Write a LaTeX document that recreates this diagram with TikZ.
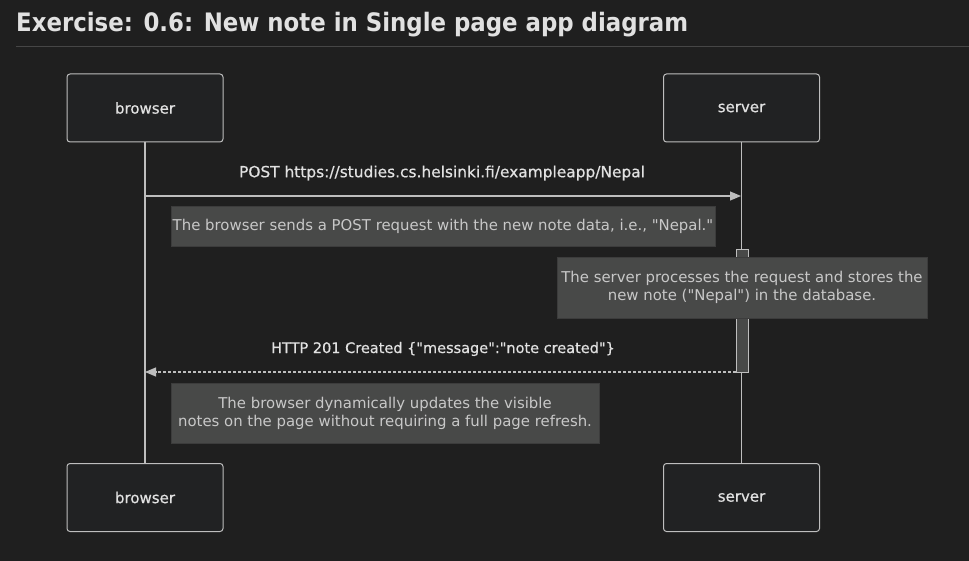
\documentclass[tikz,border=0pt]{standalone}
\usepackage{fontspec}
\setmainfont{DejaVu Sans}
\newfontfamily\notefont{DejaVu Sans}
\newfontfamily\medfont{DejaVu Sans}[FakeBold=0.6]
\newfontfamily\titlefont{DejaVu Sans Condensed}
\newcommand\qq{\symbol{34}}
\usetikzlibrary{arrows.meta}
\definecolor{bg}{RGB}{31,31,31}
\definecolor{boxfill}{RGB}{33,34,35}
\definecolor{boxline}{RGB}{190,190,190}
\definecolor{notefill}{RGB}{72,73,72}
\definecolor{noteline}{RGB}{60,60,60}
\definecolor{txt}{RGB}{225,225,225}
\definecolor{notetxt}{RGB}{200,200,200}
\definecolor{rule}{RGB}{70,70,70}
\begin{document}
\begin{tikzpicture}[x=1pt,y=-1pt,
  actor/.style={draw=boxline,line width=1pt,fill=boxfill,rounded corners=3pt,minimum width=156pt,minimum height=68pt,text=txt,font=\medfont\fontsize{15}{18}\selectfont,inner sep=0pt},
  notebox/.style={draw=noteline,line width=0.8pt,fill=notefill,text=notetxt,font=\notefont\fontsize{14.9}{18}\selectfont,align=center,inner sep=0pt},
  life/.style={draw=boxline,line width=1.2pt},
  msg/.style={text=txt,font=\medfont\fontsize{15.4}{18}\selectfont,inner sep=0pt}]
\fill[bg] (0,0) rectangle (969,561);
\useasboundingbox (0,0) rectangle (969,561);
\node[anchor=base west,text=txt,font=\titlefont\bfseries\fontsize{25.4}{32}\selectfont,inner sep=0pt] (title) at (16,32) {Exercise: 0.6: New note in Single page app diagram};
\draw[rule,line width=1pt] (16,47) -- (969,47);
% actors
\node[actor] (bt) at (145,108) {browser};
\node[actor] (st) at (741.5,108) {server};
\node[actor] (bb) at (145,497.5) {browser};
\node[actor] (sb) at (741.5,497.5) {server};
\draw[life] (bt.south) -- (bb.north);
\draw[life] (st.south) -- (sb.north);
% activation
\node[draw=boxline,line width=0.8pt,fill=notefill,minimum width=12pt,minimum height=123pt,inner sep=0pt] (act) at (742,310.5) {};
% POST
\coordinate (p1) at (145,196);
\coordinate (p2) at (741,196);
\draw[boxline,line width=1.2pt,-{Triangle[length=11pt,width=9pt]}] (p1) -- (p2);
\node[msg] (postlbl) at (442,173) {POST https://studies.cs.helsinki.fi/exampleapp/Nepal};
% note 1
\node[notebox,minimum width=544pt,minimum height=40pt] (n1) at (443,226) {The browser sends a POST request with the new note data, i.e., \qq Nepal.\qq};
% note 2
\node[notebox,minimum width=370pt,minimum height=61pt] (n2) at (742,287.5) {The server processes the request and stores the\\new note (\qq Nepal\qq) in the database.};
% response
\coordinate (r1) at (736,372);
\coordinate (r2) at (145,372);
\draw[boxline,line width=1.2pt,dash pattern=on 3pt off 2pt,-{Triangle[length=11pt,width=9pt]}] (r1) -- (r2);
\node[msg,font=\medfont\fontsize{14.5}{18}\selectfont] (resplbl) at (443,349) {HTTP 201 Created \{\qq message\qq:\qq note created\qq\}};
% note 3
\node[notebox,minimum width=428pt,minimum height=60pt] (n3) at (385,413) {The browser dynamically updates the visible\\notes on the page without requiring a full page refresh.};
\end{tikzpicture}
\end{document}
